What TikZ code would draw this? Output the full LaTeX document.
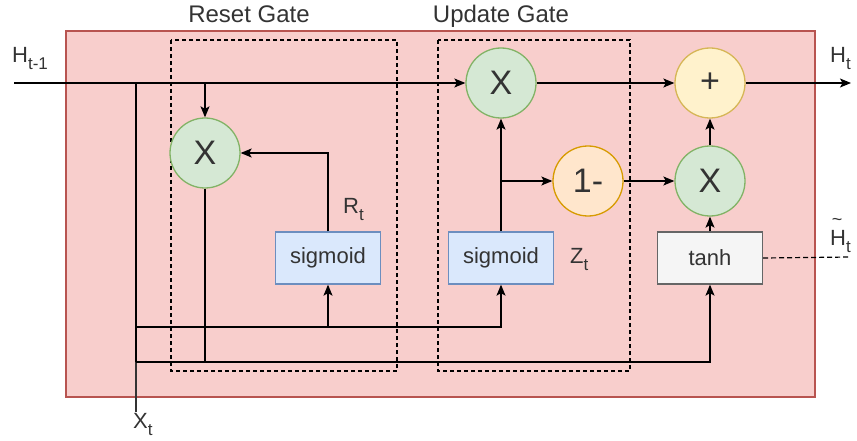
\documentclass[tikz,border=0pt]{standalone}
\usepackage{fontspec}
\setmainfont{Liberation Sans}
\usetikzlibrary{arrows.meta}

\definecolor{cellfill}{HTML}{F8CECC}
\definecolor{celledge}{HTML}{B85450}
\definecolor{mulfill}{HTML}{D5E8D4}
\definecolor{muledge}{HTML}{82B366}
\definecolor{addfill}{HTML}{FFF2CC}
\definecolor{addedge}{HTML}{D6B656}
\definecolor{invfill}{HTML}{FFE6CC}
\definecolor{invedge}{HTML}{D79B00}
\definecolor{sigfill}{HTML}{DAE8FC}
\definecolor{sigedge}{HTML}{6C8EBF}
\definecolor{tanfill}{HTML}{F5F5F5}
\definecolor{tanedge}{HTML}{666666}
\definecolor{ink}{HTML}{333333}

% lowered index as used in the state labels
\newcommand{\lowidx}[1]{\raisebox{-7pt}{\fontsize{17}{17}\selectfont #1}}

\begin{document}
\begin{tikzpicture}[x=1pt,y=-1pt,
  wire/.style={line width=1.3pt, draw=black},
  arrowed/.style={wire, -{Stealth[length=11pt,width=9pt,inset=2.5pt]}},
  gatebox/.style={draw=black, line width=1.3pt, dash pattern=on 4pt off 3pt},
  opnode/.style={circle, minimum size=70pt, inner sep=0pt, line width=1.3pt,
    text=ink, font=\fontsize{34}{34}\selectfont},
  mulop/.style={opnode, fill=mulfill, draw=muledge},
  addop/.style={opnode, fill=addfill, draw=addedge},
  invop/.style={opnode, fill=invfill, draw=invedge},
  actbox/.style={rectangle, minimum width=105pt, minimum height=52pt, inner sep=0pt,
    line width=1.3pt, text=ink, font=\fontsize{22}{22}\selectfont},
  sigbox/.style={actbox, fill=sigfill, draw=sigedge},
  tanbox/.style={actbox, fill=tanfill, draw=tanedge},
  title/.style={text=ink, font=\fontsize{24}{24}\selectfont, inner sep=0pt},
  statelabel/.style={text=ink, font=\fontsize{22}{22}\selectfont, inner sep=0pt, anchor=base west}
]
\useasboundingbox (0,0) rectangle (857,441);

% cell body
\draw[draw=celledge, fill=cellfill, line width=1.3pt] (66,31) rectangle (815,397);

% gate frames and titles
\draw[gatebox] (171,40) rectangle (397,371);
\draw[gatebox] (438,40) rectangle (630,371);
\node[title, anchor=base] (resettitle) at (249,23) {Reset Gate};
\node[title, anchor=base] (updatetitle) at (501,23) {Update Gate};

% operations
\node[mulop] (rx) at (205,153) {X};
\node[mulop] (ux) at (501,83) {X};
\node[addop] (plus) at (710,83) {+};
\node[invop] (om) at (588,181) {1-};
\node[mulop] (mx) at (710,181) {X};

% activations
\node[sigbox] (sg1) at (328,258) {sigmoid};
\node[sigbox] (sg2) at (501,258) {sigmoid};
\node[tanbox] (tanh) at (710,258) {tanh};

% junctions and free ends
\coordinate (hin) at (14,83);
\coordinate (hout) at (851,83);
\coordinate (ta) at (136,83);
\coordinate (tc) at (136,327);
\coordinate (tb) at (136,362);
\coordinate (xt) at (136,412);
\coordinate (ra) at (205,83);
\coordinate (rb) at (205,362);
\coordinate (cand) at (851,257);

% state line
\draw[arrowed] (hin) -- (ux.west);
\draw[arrowed] (ux.east) -- (plus.west);
\draw[arrowed] (plus.east) -- (hout);

% reset gate
\draw[wire] (ta) -- (tb);
\draw[wire, draw=ink] (xt) -- (tb);
\draw[arrowed] (ra) -- (rx.north);
\draw[arrowed] (sg1.north) |- (rx.east);
\draw[wire] (rx.south) -- (rb);
\draw[arrowed] (tc -| sg1.south) -- (sg1.south);

% inputs to the activations
\draw[arrowed] (tc) -| (sg2.south);
\draw[arrowed] (tb) -| (tanh.south);

% update gate
\draw[arrowed] (sg2.north) -- (ux.south);
\draw[arrowed] (sg2.north |- om.west) -- (om.west);
\draw[arrowed] (om.east) -- (mx.west);
\draw[arrowed] (mx.north) -- (plus.south);
\draw[arrowed] (tanh.north) -- (mx.south);
\draw[line width=1.2pt, dash pattern=on 5pt off 3pt] (tanh.east) -- (cand);

% state labels
\node[statelabel] (hprev) at (12,63) {H\lowidx{t-1}};
\node[statelabel] (hnext) at (830,63) {H\lowidx{t}};
\node[statelabel] (rt) at (343,213) {R\lowidx{t}};
\node[statelabel] (zt) at (570,263) {Z\lowidx{t}};
\node[statelabel] (xtl) at (133,428) {X\lowidx{t}};
\node[statelabel] (htilde) at (830,245) {H\lowidx{t}};
\node[text=ink, font=\fontsize{18}{18}\selectfont, inner sep=0pt, anchor=base]
  (tildemark) at (837,225) {\char"7E};
\end{tikzpicture}
\end{document}
